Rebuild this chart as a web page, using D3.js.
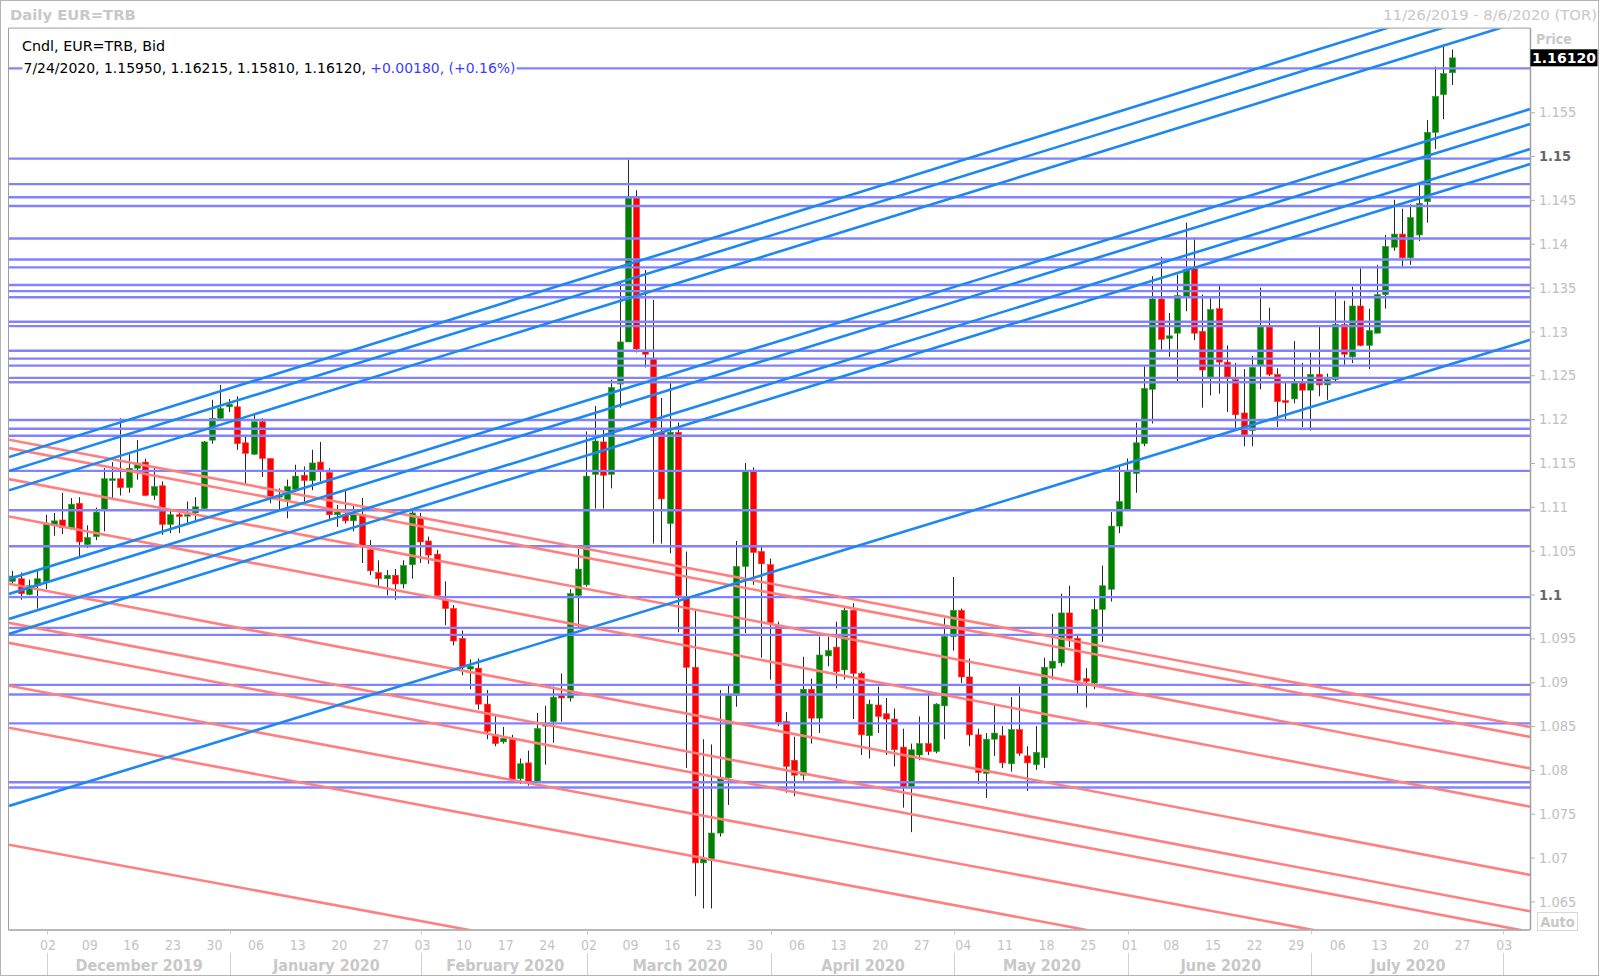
<!DOCTYPE html>
<html><head><meta charset="utf-8">
<script src="https://cdn.jsdelivr.net/npm/d3@7"></script>
<style>html,body{margin:0;padding:0;background:#fff;}svg{display:block;}
text{font-family:"DejaVu Sans Condensed","DejaVu Sans",sans-serif;font-stretch:condensed;}
text.wide{font-family:"DejaVu Sans",sans-serif;font-stretch:normal;}</style>
</head><body>
<svg id="c" width="1600" height="978"></svg>
<script>
// ---- data (EUR=TRB daily candles, 11/26/2019 .. 7/24/2020, weekdays) ----
const startDay = "2019-11-26", axisEndDay = "2020-08-06";
const opens = [1.1015,1.1018,1.1000,1.1010,1.1015,1.1079,1.1085,1.1076,1.1104,1.1057,1.1066,1.1097,1.1130,1.1132,1.1122,1.1144,1.1151,1.1113,1.1124,1.1080,
1.1091,1.1090,1.1093,1.1098,1.1176,1.1201,1.1214,1.1214,1.1173,1.1160,1.1197,1.1155,1.1111,1.1108,1.1120,1.1136,1.1130,1.1151,1.1139,1.1091,
1.1091,1.1084,1.1091,1.1051,1.1025,1.1018,1.1022,1.1012,1.1034,1.1088,1.1061,1.1046,1.0994,1.0984,1.0950,1.0915,1.0916,1.0875,1.0840,1.0832,
1.0835,1.0790,1.0808,1.0787,1.0850,1.0855,1.0885,1.0882,1.0999,1.1011,1.1137,1.1174,1.1137,1.1240,1.1288,1.1452,1.1278,1.1269,1.1185,1.1081,
1.1185,1.0996,1.0917,1.0694,1.0697,1.0728,1.0791,1.0885,1.1032,1.1140,1.1049,1.1034,1.0965,1.0855,1.0811,1.0794,1.0892,1.0859,1.0930,1.0940,
1.0914,1.0982,1.0910,1.0839,1.0874,1.0864,1.0858,1.0826,1.0781,1.0817,1.0830,1.0821,1.0873,1.0952,1.0982,1.0906,1.0840,1.0796,1.0835,1.0839,
1.0807,1.0846,1.0816,1.0806,1.0814,1.0916,1.0922,1.0979,1.0950,1.0904,1.0899,1.0983,1.1006,1.1078,1.1097,1.1138,1.1172,1.1234,1.1337,1.1292,
1.1298,1.1340,1.1372,1.1300,1.1248,1.1326,1.1265,1.1245,1.1207,1.1187,1.1262,1.1305,1.1251,1.1221,1.1223,1.1243,1.1233,1.1251,1.1239,1.1245,
1.1308,1.1271,1.1329,1.1284,1.1298,1.1342,1.1396,1.1411,1.1384,1.1410,1.1448,1.1527,1.1570,1.1595];
const highs = [1.1027,1.1025,1.1017,1.1029,1.1091,1.1093,1.1116,1.1110,1.1111,1.1079,1.1099,1.1144,1.1151,1.1201,1.1160,1.1176,1.1155,1.1145,1.1129,1.1095,
1.1093,1.1106,1.1111,1.1175,1.1222,1.1239,1.1223,1.1226,1.1182,1.1205,1.1201,1.1155,1.1121,1.1131,1.1148,1.1146,1.1165,1.1174,1.1144,1.1102,
1.1119,1.1102,1.1110,1.1062,1.1039,1.1028,1.1029,1.1039,1.1098,1.1093,1.1066,1.1051,1.1015,1.0988,1.0959,1.0926,1.0927,1.0891,1.0863,1.0849,
1.0840,1.0813,1.0822,1.0865,1.0873,1.0895,1.0910,1.1006,1.1052,1.1186,1.1215,1.1189,1.1245,1.1357,1.1496,1.1461,1.1370,1.1336,1.1224,1.1241,
1.1196,1.1049,1.0983,1.0835,1.0829,1.0891,1.0897,1.1061,1.1150,1.1145,1.1055,1.1041,1.0969,1.0866,1.0838,1.0929,1.0904,1.0952,1.0952,1.0969,
1.0986,1.0990,1.0912,1.0880,1.0895,1.0882,1.0870,1.0847,1.0830,1.0861,1.0889,1.0876,1.0973,1.1020,1.0984,1.0927,1.0847,1.0842,1.0874,1.0850,
1.0883,1.0895,1.0827,1.0850,1.0928,1.0978,1.1001,1.1010,1.0953,1.0916,1.0995,1.1033,1.1094,1.1146,1.1155,1.1196,1.1260,1.1363,1.1385,1.1321,
1.1365,1.1424,1.1405,1.1342,1.1340,1.1352,1.1284,1.1264,1.1257,1.1272,1.1350,1.1327,1.1258,1.1243,1.1289,1.1264,1.1276,1.1305,1.1252,1.1345,
1.1335,1.1351,1.1372,1.1326,1.1376,1.1410,1.1450,1.1440,1.1445,1.1467,1.1541,1.1602,1.1625,1.16215];
const lows = [1.1012,1.0994,1.0999,1.0984,1.1006,1.1067,1.1069,1.1074,1.1042,1.1053,1.1062,1.1072,1.1110,1.1113,1.1116,1.1131,1.1112,1.1108,1.1068,1.1070,
1.1070,1.1079,1.1083,1.1096,1.1172,1.1199,1.1208,1.1165,1.1127,1.1159,1.1134,1.1104,1.1096,1.1087,1.1117,1.1106,1.1119,1.1129,1.1085,1.1077,
1.1081,1.1072,1.1036,1.1022,1.1010,1.0999,1.0994,1.1007,1.1018,1.1036,1.1035,1.0998,1.0965,1.0942,1.0908,1.0892,1.0869,1.0835,1.0827,1.0830,
1.0788,1.0784,1.0782,1.0787,1.0806,1.0831,1.0855,1.0878,1.0963,1.1009,1.1098,1.1098,1.1121,1.1213,1.1288,1.1276,1.1259,1.1058,1.1058,1.1047,
1.0957,1.0802,1.0656,1.0642,1.0642,1.0724,1.0760,1.0872,1.0956,1.1011,1.0928,1.0903,1.0850,1.0774,1.0770,1.0788,1.0830,1.0842,1.0918,1.0893,
1.0903,1.0858,1.0817,1.0813,1.0842,1.0817,1.0804,1.0757,1.0729,1.0811,1.0817,1.0819,1.0835,1.0936,1.0899,1.0827,1.0784,1.0768,1.0816,1.0802,
1.0798,1.0816,1.0776,1.0800,1.0802,1.0903,1.0918,1.0940,1.0887,1.0871,1.0892,1.0946,1.0992,1.1070,1.1096,1.1116,1.1169,1.1195,1.1279,1.1271,
1.1243,1.1323,1.1290,1.1213,1.1227,1.1229,1.1208,1.1188,1.1169,1.1169,1.1234,1.1249,1.1191,1.1199,1.1218,1.1191,1.1187,1.1226,1.1222,1.1243,
1.1262,1.1264,1.1283,1.1257,1.1298,1.1326,1.1392,1.1374,1.1376,1.1403,1.1424,1.1508,1.1542,1.1581];
const closes = [1.1021,1.1001,1.1010,1.1018,1.1080,1.1084,1.1076,1.1103,1.1060,1.1065,1.1094,1.1132,1.1132,1.1122,1.1144,1.1150,1.1113,1.1123,1.1080,1.1091,
1.1089,1.1091,1.1100,1.1174,1.1201,1.1212,1.1217,1.1172,1.1161,1.1197,1.1155,1.1112,1.1113,1.1123,1.1135,1.1130,1.1150,1.1142,1.1091,1.1094,
1.1084,1.1091,1.1056,1.1027,1.1018,1.1022,1.1012,1.1033,1.1093,1.1060,1.1045,1.0999,1.0984,1.0947,1.0918,1.0918,1.0875,1.0844,1.0830,1.0836,
1.0789,1.0807,1.0787,1.0847,1.0852,1.0883,1.0882,1.1001,1.1029,1.1135,1.1175,1.1136,1.1236,1.1288,1.1452,1.1280,1.1274,1.1187,1.1109,1.1185,
1.0999,1.0917,1.0694,1.0699,1.0728,1.0791,1.0885,1.1032,1.1140,1.1048,1.1035,1.0968,1.0854,1.0804,1.0794,1.0892,1.0859,1.0931,1.0936,1.0912,
1.0982,1.0910,1.0840,1.0875,1.0861,1.0858,1.0823,1.0781,1.0823,1.0830,1.0821,1.0875,1.0952,1.0982,1.0906,1.0840,1.0797,1.0835,1.0842,1.0808,
1.0846,1.0819,1.0808,1.0820,1.0917,1.0924,1.0979,1.0950,1.0902,1.0901,1.0983,1.1010,1.1078,1.1106,1.1140,1.1173,1.1235,1.1337,1.1291,1.1295,
1.1341,1.1371,1.1298,1.1256,1.1325,1.1265,1.1248,1.1205,1.1182,1.1259,1.1305,1.1251,1.1220,1.1219,1.1243,1.1233,1.1251,1.1239,1.1245,1.1308,
1.1274,1.1329,1.1284,1.1301,1.1342,1.1397,1.1411,1.1384,1.1430,1.1446,1.1527,1.1568,1.1594,1.1612];

// horizontal support/resistance levels
const hLevels = [1.1600,1.1497,1.1468,1.1453,1.1443,1.1406,1.1382,1.1373,1.1353,1.1346,1.1339,1.1311,1.1306,1.1278,1.1269,1.1261,
1.1247,1.1242,1.1199,1.1189,1.1181,1.1141,1.1096,1.1055,1.0997,1.0962,1.0954,1.0897,1.0886,1.0853,1.0786,1.0780];
// trend lines: price at trading day 0 (11/26/2019) and at trading day 180 (8/4/2020)
const lineAnchors = [0, 180];
const risingLines = [[1.11579,1.16896],[1.11420,1.16699],[1.11200,1.16494],[1.10189,1.15465],[1.10018,1.15294],[1.09733,1.15009],[1.09562,1.14838],[1.07601,1.12834]];
const fallingLines = [[1.11757,1.08532],[1.11662,1.08420],[1.11309,1.08060],[1.10883,1.07624],[1.10115,1.06846],[1.09670,1.06431],[1.09442,1.06197],[1.08952,1.05754],[1.08473,1.05268],[1.07139,1.03976]];

const priceTicks = [1.065,1.07,1.075,1.08,1.085,1.09,1.095,1.1,1.105,1.11,1.115,1.12,1.125,1.13,1.135,1.14,1.145,1.15,1.155];
const boldTicks = [1.1,1.15];
const monthLabels = ["December 2019","January 2020","February 2020","March 2020","April 2020","May 2020","June 2020","July 2020"];
const headerLine1 = "Cndl, EUR=TRB, Bid";
const headerLine2a = "7/24/2020, 1.15950, 1.16215, 1.15810, 1.16120, ";
const headerLine2b = "+0.00180, (+0.16%)";
const lastPrice = 1.16120;

// ---- build trading-day calendar (weekdays) ----
const parse = d3.timeParse("%Y-%m-%d");
const axisDates = d3.timeDay.range(parse(startDay), d3.timeDay.offset(parse(axisEndDay),1)).filter(d => d.getDay()!==0 && d.getDay()!==6);

// ---- layout ----
const L=9, R=1530, T=28.6, B=929.6;
const svg = d3.select("#c");
const x = d3.scaleLinear().domain([-0.4, 182.4]).range([L, R]);
const y = d3.scaleLinear().domain([1.06179, 1.16453]).range([B, T]);

svg.append("rect").attr("x",0.5).attr("y",0.5).attr("width",1598).attr("height",975).attr("fill","#fff").attr("stroke","#b4b4b4");

svg.append("defs").append("clipPath").attr("id","plotclip").append("rect")
  .attr("x",L).attr("y",T).attr("width",R-L).attr("height",B-T);

// title row
svg.append("text").attr("class","wide").attr("x",10).attr("y",20).attr("font-size",14.8).attr("font-weight","bold").attr("fill","#c8c8c8").text("Daily EUR=TRB");
svg.append("text").attr("class","wide").attr("x",1597).attr("y",20).attr("text-anchor","end").attr("font-size",14.8).attr("fill","#c8c8c8").text("11/26/2019 - 8/6/2020 (TOR)");

// candles
const cg = svg.append("g").attr("clip-path","url(#plotclip)");
const idx = d3.range(opens.length);
cg.selectAll("line.wick").data(idx).join("line").attr("class","wick")
  .attr("x1",i=>Math.round(x(i))+0.5).attr("x2",i=>Math.round(x(i))+0.5)
  .attr("y1",i=>y(highs[i])).attr("y2",i=>y(lows[i]))
  .attr("stroke","#262626").attr("stroke-width",1);
cg.selectAll("rect.body").data(idx).join("rect").attr("class","body")
  .attr("x",i=>Math.round(x(i))-2.5).attr("width",6)
  .attr("y",i=>y(Math.max(opens[i],closes[i])))
  .attr("height",i=>Math.max(1.5, Math.abs(y(opens[i])-y(closes[i]))))
  .attr("fill",i=>closes[i]>=opens[i]?"#008000":"#ff0000")
  .attr("stroke",i=>closes[i]>=opens[i]?"#2e9a2e":"#ff3030").attr("stroke-width",0.6);

// lines
const lg = svg.append("g").attr("clip-path","url(#plotclip)");
lg.selectAll("line.h").data(hLevels).join("line").attr("class","h")
  .attr("x1",L).attr("x2",R).attr("y1",d=>y(d)).attr("y2",d=>y(d))
  .attr("stroke","#8282ff").attr("stroke-width",2.4);
function ext(p, i){ return p[0] + (p[1]-p[0])*(i-lineAnchors[0])/(lineAnchors[1]-lineAnchors[0]); }
const [d0,d1] = x.domain();
lg.selectAll("line.f").data(fallingLines).join("line").attr("class","f")
  .attr("x1",x(d0)).attr("x2",x(d1)).attr("y1",p=>y(ext(p,d0))).attr("y2",p=>y(ext(p,d1)))
  .attr("stroke","#ff8080").attr("stroke-width",2.6);
lg.selectAll("line.r").data(risingLines).join("line").attr("class","r")
  .attr("x1",x(d0)).attr("x2",x(d1)).attr("y1",p=>y(ext(p,d0))).attr("y2",p=>y(ext(p,d1)))
  .attr("stroke","#1e88f0").attr("stroke-width",2.6);

// plot frame
svg.append("line").attr("x1",L-0.5).attr("x2",L-0.5).attr("y1",T-0.5).attr("y2",B+0.5).attr("stroke","#a0a0a0");
svg.append("line").attr("x1",L-0.5).attr("x2",R).attr("y1",T-0.5).attr("y2",T-0.5).attr("stroke","#a0a0a0");
svg.append("line").attr("x1",L-0.5).attr("x2",R).attr("y1",B+0.5).attr("y2",B+0.5).attr("stroke","#a0a0a0").attr("stroke-width",1.5);

// header legend
const hg = svg.append("g");
const t1 = hg.append("text").attr("class","wide").attr("x",22).attr("y",51).attr("font-size",14.2).attr("fill","#000")
  .attr("textLength",143).attr("lengthAdjust","spacingAndGlyphs").text(headerLine1);
const t2 = hg.append("text").attr("class","wide").attr("x",23.5).attr("y",72.5).attr("font-size",14.2).attr("fill","#000")
  .attr("textLength",492).attr("lengthAdjust","spacingAndGlyphs");
t2.append("tspan").text(headerLine2a);
t2.append("tspan").attr("fill","#3c3cff").text(headerLine2b);
[t1,t2].forEach(t=>{ const b=t.node().getBBox(); hg.insert("rect","text").attr("x",b.x-1).attr("y",b.y).attr("width",b.width+2).attr("height",b.height).attr("fill","#fff"); });

// right price axis
const ax = svg.append("g").attr("transform",`translate(${R},0)`)
  .call(d3.axisRight(y).tickValues(priceTicks).tickSize(5).tickPadding(4).tickFormat(d=>String(+d.toFixed(3))));
ax.select(".domain").attr("stroke","#a0a0a0").attr("stroke-width",1.5).attr("d",`M0.5,${T-0.5}V${B+0.5}`);
ax.selectAll(".tick line").attr("stroke","#b0b0b0");
ax.selectAll(".tick text").attr("font-size",14.5).attr("font-family",'"DejaVu Sans Condensed","DejaVu Sans",sans-serif')
  .attr("fill",d=>boldTicks.includes(d)?"#666":"#c0c0c0").attr("font-weight",d=>boldTicks.includes(d)?"bold":"normal");

svg.append("text").attr("x",1536).attr("y",44).attr("font-size",14).attr("font-weight","bold").attr("fill","#c8c8c8").text("Price");
svg.append("rect").attr("x",R+0.5).attr("y",y(lastPrice)-8.5).attr("width",67).attr("height",17).attr("fill","#000");
svg.append("text").attr("x",R+2).attr("y",y(lastPrice)+5).attr("font-size",14).attr("font-weight","bold").attr("fill","#fff")
  .attr("textLength",64).attr("lengthAdjust","spacingAndGlyphs").text(lastPrice.toFixed(5));
svg.append("rect").attr("x",1537.5).attr("y",912.5).attr("width",40).attr("height",18).attr("fill","#fff").attr("stroke","#d8d8d8");
svg.append("text").attr("x",1557.5).attr("y",927).attr("text-anchor","middle").attr("font-size",14.5).attr("font-weight","bold").attr("fill","#c8c8c8").text("Auto");

// bottom time axis
const fmtDay = d3.timeFormat("%d");
const mondays = axisDates.map((d,i)=>({d,i})).filter(o=>o.d.getDay()===1);
svg.append("g").selectAll("text").data(mondays).join("text")
  .attr("x",o=>x(o.i)+2.5).attr("y",950).attr("text-anchor","middle").attr("font-size",14).attr("fill","#c4c4c4")
  .text(o=>fmtDay(o.d));
const monthStarts = axisDates.map((d,i)=>({d,i})).filter((o,k,arr)=> k>0 && o.d.getMonth()!==arr[k-1].d.getMonth());
const sepG = svg.append("g").attr("stroke","#d0d0d0");
monthStarts.forEach(o=>{
  const xx = Math.round(x(o.i))+1.5;
  sepG.append("line").attr("x1",xx).attr("x2",xx).attr("y1",B+1).attr("y2",B+5);
  sepG.append("line").attr("x1",xx).attr("x2",xx).attr("y1",953).attr("y2",975);
});
svg.append("g").selectAll("text").data(monthLabels).join("text")
  .attr("x",(m,k)=>(x(monthStarts[k].i)+x(monthStarts[k+1].i))/2+2)
  .attr("y",971).attr("text-anchor","middle").attr("font-size",16).attr("font-weight","bold").attr("fill","#c8c8c8")
  .text(m=>m);
</script>
</body></html>
